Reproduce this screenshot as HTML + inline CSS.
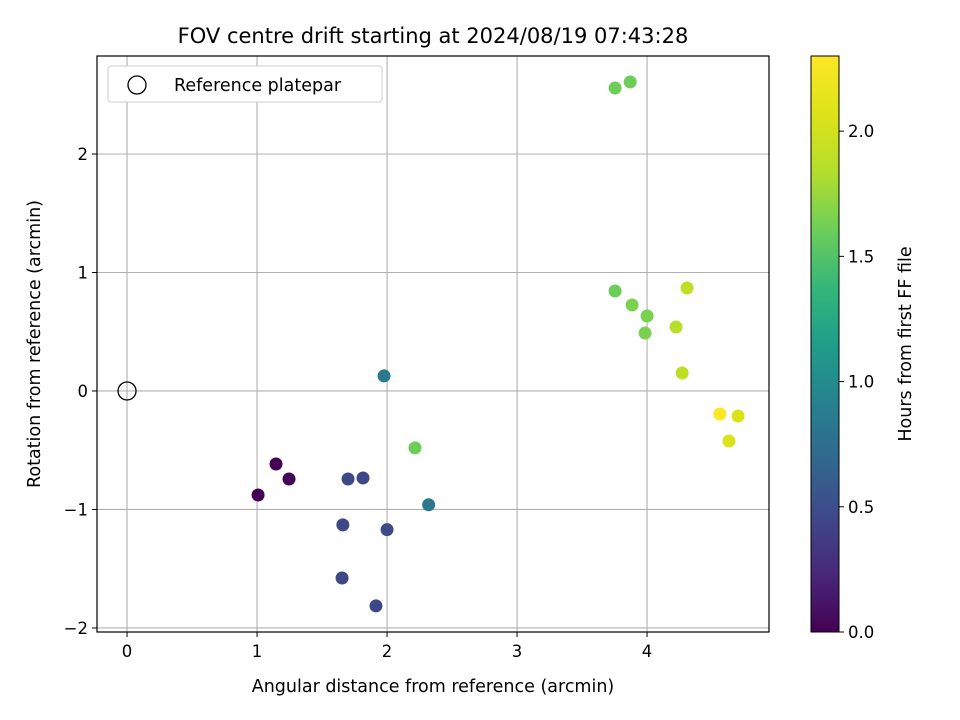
<!DOCTYPE html>
<html><head><meta charset="utf-8"><style>
html,body{margin:0;padding:0;background:#fff;}
svg{display:block;font-family:"DejaVu Sans","Liberation Sans",sans-serif;}
</style></head><body>
<svg id="chart" width="960" height="720" viewBox="0 0 960 720">
<defs>
<linearGradient id="vir" x1="0" y1="1" x2="0" y2="0">
<stop offset="0" stop-color="#440154"/><stop offset="0.1" stop-color="#482878"/><stop offset="0.2" stop-color="#3e4989"/><stop offset="0.3" stop-color="#31688e"/><stop offset="0.4" stop-color="#26828e"/><stop offset="0.5" stop-color="#1f9e89"/><stop offset="0.6" stop-color="#35b779"/><stop offset="0.7" stop-color="#6ece58"/><stop offset="0.8" stop-color="#b5de2b"/><stop offset="0.9" stop-color="#dde318"/><stop offset="1" stop-color="#fde725"/>
</linearGradient>
</defs>
<text x="433" y="43" font-size="21" text-anchor="middle">FOV centre drift starting at 2024/08/19 07:43:28</text>
<g id="grid"></g>
<g id="ticks"></g>
<g id="marks"></g>
<rect x="97" y="56" width="672" height="576" fill="none" stroke="#000" stroke-width="1.2"/>
<g>
<rect x="108" y="66" width="274" height="36" rx="3" fill="#fff" stroke="#ccc"/>
<circle cx="137" cy="85" r="9" fill="none" stroke="#000" stroke-width="1.3"/>
<text x="174" y="91" font-size="17.5">Reference platepar</text>
</g>
<text x="433" y="692" font-size="17.5" text-anchor="middle">Angular distance from reference (arcmin)</text>
<text transform="translate(40,344) rotate(-90)" font-size="17.5" text-anchor="middle">Rotation from reference (arcmin)</text>
<rect x="811" y="56" width="28" height="576" fill="url(#vir)" stroke="#000" stroke-width="1"/>
<g id="cticks"></g>
<text transform="translate(911,344) rotate(-90)" font-size="17.5" text-anchor="middle">Hours from first FF file</text>
</svg>
<script>
const xVals=[1.146,1.008,1.246,1.70,1.815,1.977,2.215,1.66,2.0,2.32,1.654,1.915,3.754,3.87,3.754,3.885,4.0,3.985,4.308,4.223,4.27,4.56,4.70,4.63];
const yVals=[-0.616,-0.878,-0.743,-0.743,-0.734,0.127,-0.48,-1.13,-1.17,-0.96,-1.578,-1.814,2.557,2.608,0.844,0.726,0.633,0.489,0.869,0.54,0.152,-0.194,-0.211,-0.422];
const hours=[0.0,0.0,0.02,0.45,0.45,0.85,1.6,0.45,0.48,0.82,0.45,0.45,1.6,1.6,1.6,1.65,1.65,1.65,1.9,1.85,1.9,2.3,2.05,2.05];
const xTicks=[0,1,2,3,4];
const yTicks=[-2,-1,0,1,2];
const cTicks=[0.0,0.5,1.0,1.5,2.0];
const X0=97,X1=769,Y0=56,Y1=632,XMIN=-0.231,XMAX=4.938,YMIN=-2.034,YMAX=2.827,HMAX=2.30;
const sx=v=>X0+(v-XMIN)/(XMAX-XMIN)*(X1-X0);
const sy=v=>Y1-(v-YMIN)/(YMAX-YMIN)*(Y1-Y0);
const sc=v=>Y1-v/HMAX*(Y1-Y0);
const vir=[[68,1,84],[72,40,120],[62,73,137],[49,104,142],[38,130,142],[31,158,137],[53,183,121],[110,206,88],[181,222,43],[221,227,24],[253,231,37]];
function color(h){let t=Math.max(0,Math.min(1,h/HMAX))*10;let i=Math.min(9,Math.floor(t)),f=t-i;const c=vir[i].map((a,k)=>Math.round(a+(vir[i+1][k]-a)*f));return `rgb(${c})`;}
const NS="http://www.w3.org/2000/svg";
function mk(tag,attrs,parent,txt){const e=document.createElementNS(NS,tag);for(const k in attrs)e.setAttribute(k,attrs[k]);if(txt!==undefined)e.textContent=txt;parent.appendChild(e);return e;}
const grid=document.getElementById('grid'),ticks=document.getElementById('ticks'),marks=document.getElementById('marks'),ct=document.getElementById('cticks');
xTicks.forEach(v=>{const x=sx(v);
const g=mk('line',{x1:x,x2:x,y1:Y0,y2:Y1,stroke:'#b0b0b0','stroke-width':1.1},grid);


mk('line',{x1:x,x2:x,y1:Y1,y2:Y1+5,stroke:'#000'},ticks);
const t=mk('text',{x:x,y:Y1+25,'font-size':16.5,'text-anchor':'middle'},ticks,String(v));

});
yTicks.forEach(v=>{const y=sy(v);
const g=mk('line',{x1:X0,x2:X1,y1:y,y2:y,stroke:'#b0b0b0','stroke-width':1.1},grid);


mk('line',{x1:X0-5,x2:X0,y1:y,y2:y,stroke:'#000'},ticks);
const t=mk('text',{x:X0-9,y:y+6,'font-size':16.5,'text-anchor':'end'},ticks,v<0?'\u2212'+(-v):String(v));

});
cTicks.forEach(v=>{const y=sc(v);
mk('line',{x1:839,x2:844,y1:y,y2:y,stroke:'#000'},ct);
const t=mk('text',{x:848,y:y+6,'font-size':16.5},ct,v.toFixed(1));

});
const ref=mk('circle',{cx:sx(0),cy:sy(0),r:9,fill:'none',stroke:'#000','stroke-width':1.3},marks);


xVals.forEach((v,i)=>{const c=mk('circle',{cx:sx(v),cy:sy(yVals[i]),r:6.5,fill:color(hours[i])},marks);

});
</script>
</body></html>
